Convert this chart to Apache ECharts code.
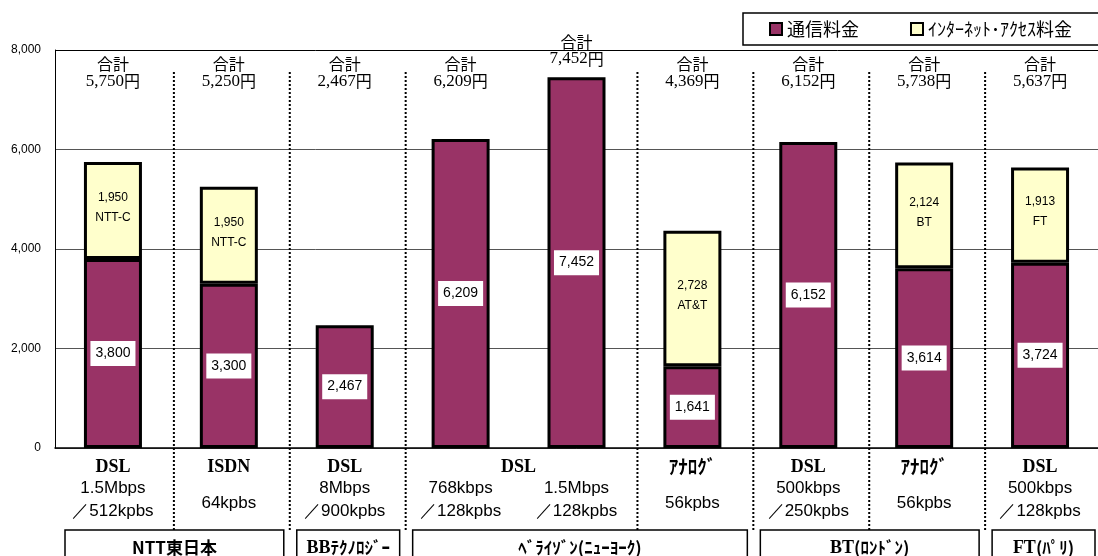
<!DOCTYPE html>
<html>
<head>
<meta charset="utf-8">
<script src="https://cdn.jsdelivr.net/npm/echarts@6/dist/echarts.min.js"></script>
<style>
  html, body { margin: 0; padding: 0; background: #fff; }
  #main { width: 1098px; height: 556px; }
</style>
</head>
<body>
<div id="main"></div>
<script>
// 通信速度（x軸ラベル）
const speeds = [
  ['1.5Mbps', '／512kpbs'],
  ['64kpbs'],
  ['8Mbps', '／900kpbs'],
  ['768kbps', '／128kpbs'],
  ['1.5Mbps', '／128kpbs'],
  ['56kpbs'],
  ['500kbps', '／250kpbs'],
  ['56kpbs'],
  ['500kbps', '／128kpbs']
];
const tsushin = [3800, 3300, 2467, 6209, 7452, 1641, 6152, 3614, 3724];
const internet = [1950, 1950, null, null, null, 2728, null, 2124, 1913];
const carriers = ['NTT-C', 'NTT-C', '', '', '', 'AT&T', '', 'BT', 'FT'];
// [名前, 開始index, 終了index]
const techs = [['DSL', 0, 0], ['ISDN', 1, 1], ['DSL', 2, 2], ['DSL', 3, 4], ['ｱﾅﾛｸﾞ', 5, 5],
  ['DSL', 6, 6], ['ｱﾅﾛｸﾞ', 7, 7], ['DSL', 8, 8]];
const groups = [['NTT東日本', 0, 1], ['BBﾃｸﾉﾛｼﾞｰ', 2, 2], ['ﾍﾞﾗｲｿﾞﾝ(ﾆｭｰﾖｰｸ)', 3, 5],
  ['BT(ﾛﾝﾄﾞﾝ)', 6, 7], ['FT(ﾊﾟﾘ)', 8, 8]];
const separators = [0, 1, 2, 4, 5, 6, 7]; // この index の右側に点線
const yMax = 8000;
const yInterval = 2000;

const totals = tsushin.map((v, i) => v + (internet[i] || 0));
const fmt = (v) => Number(v).toLocaleString('en-US');
const serifWords = ['DSL', 'ISDN', 'BB', 'BT', 'FT'];
const GOTHIC = 'Noto Sans CJK JP';
const SERIF = 'Liberation Serif';
const SANS = 'Liberation Sans';

function toRich(str) {
  return str.replace(/([A-Za-z]+)|([^A-Za-z]+)/g, (m, a) =>
    (a && serifWords.includes(a)) ? `{s|${m}}` : `{g|${m}}`);
}
const boldRich = {
  s: { fontFamily: SERIF, fontWeight: 'bold', fontSize: 18, color: '#000' },
  g: { fontFamily: GOTHIC, fontWeight: 'bold', fontSize: 17, color: '#000' }
};

const myChart = echarts.init(document.getElementById('main'));

const option = {
  animation: false,
  grid: { left: 55, top: 50, width: 1051, height: 398 },
  legend: {
    data: ['通信料金', 'ｲﾝﾀｰﾈｯﾄ･ｱｸｾｽ料金'],
    orient: 'horizontal',
    left: 743,
    top: 13,
    width: 420,
    padding: [7, 40, 7, 26],
    itemGap: 51,
    itemWidth: 12,
    itemHeight: 12,
    icon: 'rect',
    backgroundColor: '#fff',
    borderColor: '#000',
    borderWidth: 1.5,
    itemStyle: { borderColor: '#000', borderWidth: 2 },
    textStyle: { fontSize: 18, fontFamily: GOTHIC, color: '#000' },
    selectedMode: false
  },
  xAxis: {
    type: 'category',
    data: speeds.map(s => s.join('\n')),
    axisTick: { show: false },
    axisLine: { lineStyle: { color: '#000', width: 1.5 } },
    axisLabel: {
      interval: 0,
      margin: 29,
      color: '#000',
      formatter: (value, idx) => {
        const s = speeds[idx];
        if (s.length === 1) return `{one|${s[0]}}`;
        return s.map(t => `{two|${t}}`).join('\n');
      },
      rich: {
        one: { fontFamily: SANS, fontSize: 17, lineHeight: 53, color: '#000' },
        two: { fontFamily: SANS, fontSize: 17, lineHeight: 23, color: '#000' }
      }
    }
  },
  yAxis: {
    type: 'value',
    min: 0,
    max: yMax,
    interval: yInterval,
    axisLine: { show: true, lineStyle: { color: '#000', width: 1 } },
    axisTick: { show: false },
    axisLabel: {
      margin: 14,
      color: '#000',
      fontFamily: SANS,
      fontSize: 12,
      formatter: (v) => fmt(v)
    },
    splitLine: { lineStyle: { color: ['#555', '#555', '#555', '#555', '#000'], width: 1 } }
  },
  series: [
    {
      name: '通信料金',
      type: 'bar',
      stack: 'total',
      data: tsushin,
      barWidth: 58,
      itemStyle: { color: '#993366', borderColor: '#000', borderWidth: 3 },
      emphasis: { disabled: true },
      label: {
        show: true,
        position: 'inside',
        formatter: (p) => fmt(p.value),
        backgroundColor: '#fff',
        padding: [6, 5, 5, 5],
        fontFamily: SANS,
        fontSize: 14,
        color: '#000'
      }
    },
    {
      name: 'ｲﾝﾀｰﾈｯﾄ･ｱｸｾｽ料金',
      type: 'bar',
      stack: 'total',
      data: internet,
      barWidth: 58,
      itemStyle: { color: '#FFFFCC', borderColor: '#000', borderWidth: 3 },
      emphasis: { disabled: true },
      label: {
        show: true,
        position: 'inside',
        offset: [0, -3],
        formatter: (p) => p.value == null ? '' : fmt(p.value) + '\n' + carriers[p.dataIndex],
        fontFamily: SANS,
        fontSize: 12,
        lineHeight: 20,
        color: '#000'
      }
    },
    {
      // 合計ラベル
      type: 'scatter',
      symbolSize: 0,
      silent: true,
      itemStyle: { color: '#000', opacity: 1 },
      data: totals.map((t, i) => [i, Math.max(t, 7000)]),
      label: {
        show: true,
        position: 'top',
        distance: 10,
        color: '#000',
        opacity: 1,
        formatter: (p) => `{a|合計}\n{n|${fmt(totals[p.dataIndex])}}{a|円}`,
        rich: {
          a: { fontFamily: GOTHIC, fontSize: 16, lineHeight: 17, color: '#000' },
          n: { fontFamily: SERIF, fontSize: 17, lineHeight: 17, color: '#000' }
        }
      }
    },
    {
      // 点線の区切り
      type: 'custom',
      silent: true,
      data: separators.map(i => [i, 0]),
      renderItem: (params, api) => {
        const p = api.coord([api.value(0), 0]);
        const w = api.size([1, 0])[0];
        const top = api.coord([api.value(0), yMax])[1] + 22;
        const x = p[0] + w / 2 + 3;
        return {
          type: 'line',
          shape: { x1: x, y1: top, x2: x, y2: p[1] + 82 },
          style: { stroke: '#000', lineWidth: 2, lineDash: [2, 2] }
        };
      }
    },
    {
      // 方式（DSL / ISDN / ｱﾅﾛｸﾞ）
      type: 'custom',
      silent: true,
      data: techs.map(t => [t[1], t[2], 0]),
      encode: { x: [0, 1], y: 2 },
      renderItem: (params, api) => {
        const s = api.coord([api.value(0), 0]);
        const e = api.coord([api.value(1), 0]);
        return {
          type: 'text',
          style: {
            text: toRich(techs[params.dataIndex][0]),
            x: (s[0] + e[0]) / 2,
            y: s[1] + 19,
            align: 'center',
            verticalAlign: 'middle',
            rich: {
              s: { fontFamily: SERIF, fontWeight: 'bold', fontSize: 18, color: '#000' },
              g: { fontFamily: GOTHIC, fontWeight: 'bold', fontSize: 19, color: '#000' }
            }
          }
        };
      }
    },
    {
      // 事業者の枠
      type: 'custom',
      silent: true,
      data: groups.map(g => [g[1], g[2], 0]),
      encode: { x: [0, 1], y: 2 },
      renderItem: (params, api) => {
        const s = api.coord([api.value(0), 0]);
        const e = api.coord([api.value(1), 0]);
        const w = api.size([1, 0])[0];
        const x0 = s[0] - w / 2 + 10;
        const x1 = e[0] + w / 2 - 3;
        const y = s[1] + 82;
        return {
          type: 'group',
          children: [
            {
              type: 'rect',
              shape: { x: x0, y: y, width: x1 - x0, height: 40 },
              style: { fill: '#fff', stroke: '#000', lineWidth: 1.5 }
            },
            {
              type: 'text',
              style: {
                text: toRich(groups[params.dataIndex][0]),
                x: (x0 + x1) / 2,
                y: y + 18,
                align: 'center',
                verticalAlign: 'middle',
                rich: boldRich
              }
            }
          ]
        };
      }
    }
  ]
};

myChart.setOption(option);
</script>
</body>
</html>
